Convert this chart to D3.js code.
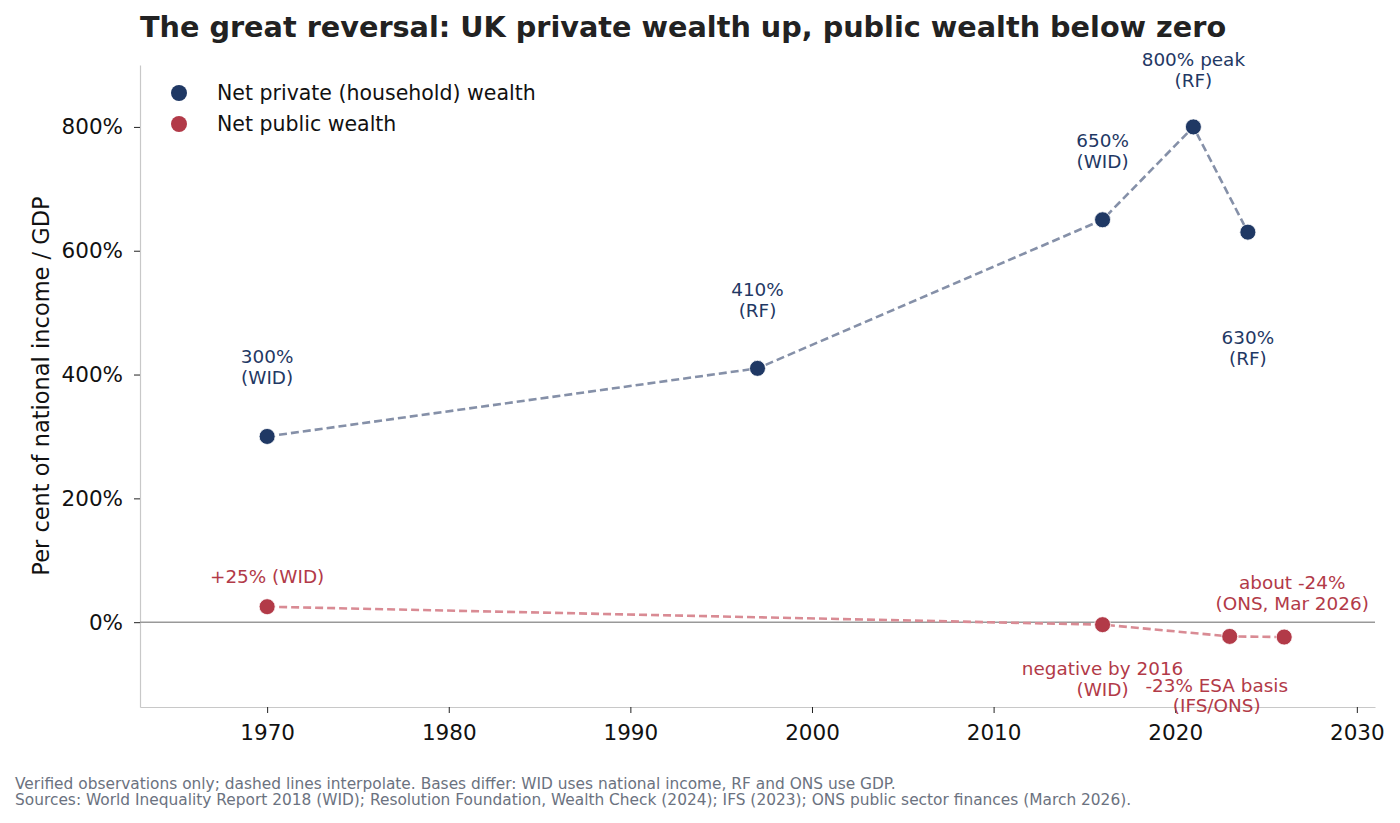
<!DOCTYPE html>
<html>
<head>
<meta charset="utf-8">
<script src="https://cdn.jsdelivr.net/npm/d3@7"></script>
<style>
  body { margin: 0; background: #fff; }
  svg text { font-family: "DejaVu Sans", sans-serif; }
  .axis path, .axis line { stroke: #c8c8c8; }
  .axis .tick line { stroke: #222; }
  .axis text { font-size: 21.5px; fill: #111; }
</style>
</head>
<body>
<div id="svgDiv"></div>
<script>
// data
const privateYears = [1970, 1997, 2016, 2021, 2024]
const privateValues = [300, 410, 650, 800, 630]
const privateLabels = ['300%\n(WID)', '410%\n(RF)', '650%\n(WID)', '800% peak\n(RF)', '630%\n(RF)']
const privateOffsets = [[0, -69.5], [0, -68.5], [0, -69], [0, -57], [0, 116]]

const publicYears = [1970, 2016, 2023, 2026]
const publicValues = [25, -4, -23, -24]
const publicLabels = ['+25% (WID)', 'negative by 2016\n(WID)', '-23% ESA basis\n(IFS/ONS)', 'about -24%\n(ONS, Mar 2026)']
const publicOffsets = [[0, -30], [0, 54.5], [-13, 59], [8, -44]]

const xTicks = [1970, 1980, 1990, 2000, 2010, 2020, 2030]
const yTicks = [0, 200, 400, 600, 800]

const navy = '#1f3864', red = '#b23a48'

var width = 1400, height = 823,
    margin = {top: 65, right: 25, bottom: 116, left: 140}

var svg = d3.select('#svgDiv')
    .append('svg')
    .attr('width', width)
    .attr('height', height)

var x = d3.scaleLinear()
    .domain([1963, 2031])
    .range([margin.left, width - margin.right])

var y = d3.scaleLinear()
    .domain([-137, 900])
    .range([height - margin.bottom, margin.top])

// axes
svg.append('g')
    .classed('axis', true)
    .attr('transform', 'translate(0,' + (height - margin.bottom) + ')')
    .call(d3.axisBottom(x).tickValues(xTicks).tickFormat(d3.format('d')).tickSize(6).tickPadding(12).tickSizeOuter(0))

svg.append('g')
    .classed('axis', true)
    .attr('transform', 'translate(' + margin.left + ',0)')
    .call(d3.axisLeft(y).tickValues(yTicks).tickFormat(d => d + '%').tickSize(6).tickPadding(11).tickSizeOuter(0))

svg.selectAll('.axis .domain').attr('stroke-width', 1.2)

// zero line
svg.append('line')
    .attr('x1', x.range()[0]).attr('x2', x.range()[1])
    .attr('y1', y(0)).attr('y2', y(0))
    .attr('stroke', '#999').attr('stroke-width', 1.6)

// y axis title
svg.append('text')
    .attr('transform', 'translate(49,' + ((margin.top + height - margin.bottom) / 2) + ') rotate(-90)')
    .attr('text-anchor', 'middle')
    .style('font-size', '22.5px')
    .style('fill', '#111')
    .text('Per cent of national income / GDP')

// title
svg.append('text')
    .attr('x', 140).attr('y', 37)
    .style('font-size', '28.7px')
    .style('font-weight', 'bold')
    .style('fill', '#222')
    .text('The great reversal: UK private wealth up, public wealth below zero')

function drawSeries(years, values, labels, offsets, color, lineColor){
    var pts = years.map((d, i) => [d, values[i]])
    svg.append('path')
        .datum(pts)
        .attr('d', d3.line().x(d => x(d[0])).y(d => y(d[1])))
        .attr('fill', 'none')
        .attr('stroke', lineColor)
        .attr('stroke-width', 2.6)
        .attr('stroke-dasharray', '8,4')

    svg.append('g')
        .selectAll('circle')
        .data(pts)
        .join('circle')
        .attr('cx', d => x(d[0]))
        .attr('cy', d => y(d[1]))
        .attr('r', 8)
        .attr('fill', color)
        .attr('stroke', '#fff')
        .attr('stroke-width', 0.8)

    // labels: offset gives the visual middle of the text block
    pts.forEach(function(d, i){
        var lines = labels[i].split('\n'),
            t = svg.append('text')
                .attr('text-anchor', 'middle')
                .style('font-size', '18.4px')
                .style('fill', color)
        lines.forEach(function(l, j){
            t.append('tspan')
                .attr('x', x(d[0]) + offsets[i][0])
                .attr('y', y(d[1]) + offsets[i][1] + (j - (lines.length - 1) / 2) * 20.5 + 6.5)
                .text(l)
        })
    })
}

drawSeries(privateYears, privateValues, privateLabels, privateOffsets, navy, '#8590a8')
drawSeries(publicYears, publicValues, publicLabels, publicOffsets, red, '#d98b94')

// legend
var legend = [['Net private (household) wealth', navy], ['Net public wealth', red]]
legend.forEach(function(l, i){
    svg.append('circle')
        .attr('cx', 179).attr('cy', 93 + i * 31)
        .attr('r', 8).attr('fill', l[1])
    svg.append('text')
        .attr('x', 217).attr('y', 100 + i * 31)
        .style('font-size', '20.5px')
        .style('fill', '#111')
        .text(l[0])
})

// footer
var notes = ['Verified observations only; dashed lines interpolate. Bases differ: WID uses national income, RF and ONS use GDP.',
    'Sources: World Inequality Report 2018 (WID); Resolution Foundation, Wealth Check (2024); IFS (2023); ONS public sector finances (March 2026).']
notes.forEach(function(n, i){
    svg.append('text')
        .attr('x', 15).attr('y', 789 + i * 16)
        .style('font-size', '15.4px')
        .style('fill', '#6b7280')
        .text(n)
})
</script>
</body>
</html>
